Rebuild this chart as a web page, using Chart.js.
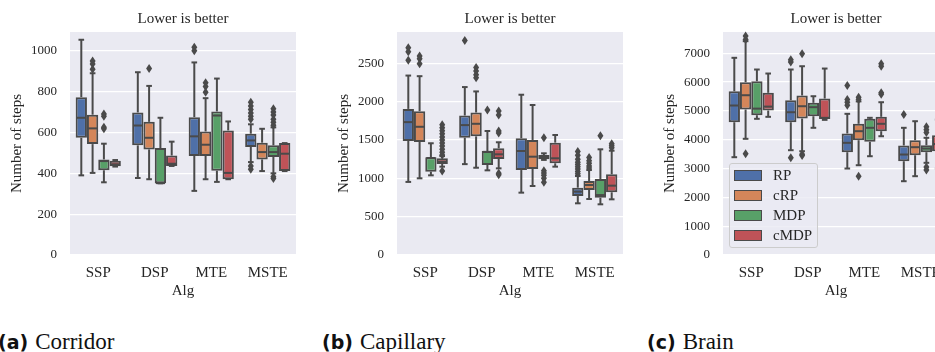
<!DOCTYPE html>
<html>
<head>
<meta charset="utf-8">
<script src="https://cdn.jsdelivr.net/npm/chart.js@4.4.0/dist/chart.umd.min.js"></script>
<style>
  html, body { margin: 0; padding: 0; background: #fff; }
  body { position: relative; width: 935px; height: 352px; overflow: hidden; }
  .panel { position: absolute; top: 0; width: 310px; height: 300px; }
  .caption { position: absolute; top: 327px; height: 30px; display: flex; align-items: center; white-space: nowrap; color: #111; }
  .caption b { font-family: "DejaVu Sans", sans-serif; font-weight: bold; font-size: 19px; margin-right: 7px; }
  .caption span { font-family: "Liberation Serif", "Times New Roman", serif; font-size: 23px; }
  #legend { position: absolute; left: 729px; top: 163px; width: 87px; height: 83px;
    background: rgba(234, 234, 242, 0.8); border: 1px solid #cccccc; border-radius: 3px; }
  #legend .row { position: absolute; left: 4px; height: 20px; display: flex; align-items: center; }
  #legend .patch { width: 28px; height: 11px; box-sizing: border-box; border: 1.5px solid #4a4a4a; }
  #legend .lab { margin-left: 11px; font-family: "Liberation Serif", "Times New Roman", serif; font-size: 15px; color: #262626; }
</style>
</head>
<body>
<div class="panel" style="left:0px"><canvas id="corridor" width="310" height="300"></canvas></div>
<div class="panel" style="left:327px"><canvas id="capillary" width="310" height="300"></canvas></div>
<div class="panel" style="left:653px"><canvas id="brain" width="310" height="300"></canvas></div>
<div id="legend"></div>
<div class="caption" style="left:-2px"><b>(a)</b><span>Corridor</span></div>
<div class="caption" style="left:322px"><b>(b)</b><span>Capillary</span></div>
<div class="caption" style="left:647px"><b>(c)</b><span>Brain</span></div>

<script>
// Box plots. Each box: [whisker low, Q1, median, Q3, whisker high]
// per category; outliers are listed separately per category.

const categories = ["SSP", "DSP", "MTE", "MSTE"];
const seriesNames = ["RP", "cRP", "MDP", "cMDP"];
const seriesColors = ["#4f70a8", "#d4865a", "#58a068", "#bf5358"];
const LINE = "#4a4a4a";
const TEXT = "#262626";
const SERIF = "'Liberation Serif', 'Times New Roman', serif";

// (a) Corridor
const corridorTicks = [0, 200, 400, 600, 800, 1000];
const corridorRP = [[390, 574, 672, 773, 1054], [377, 537, 634, 698, 895], [314, 485, 581, 675, 943], [455, 529, 561, 594, 640]];
const corridorCRP = [[402, 543, 620, 687, 890], [371, 517, 574, 652, 828], [371, 485, 540, 605, 768], [411, 468, 504, 550, 618]];
const corridorMDP = [[356, 415, 460, 468, 545], [351, 351, 352, 524, 672], [358, 413, 683, 703, 864], [400, 480, 504, 537, 625]];
const corridorCMDP = [[433, 435, 444, 462, 465], [436, 436, 447, 487, 555], [371, 371, 402, 610, 654], [411, 411, 496, 548, 548]];
const corridorRPOut = [[], [], [1017, 1000], [748, 730, 712, 695, 680, 665, 436, 420]];
const corridorCRPOut = [[950, 935, 910], [913], [843, 825, 797], []];
const corridorMDPOut = [[690, 680, 625, 618], [], [], [716, 700, 685, 665, 650, 635, 383, 374]];
const corridorCMDPOut = [[], [], [], []];

// (b) Capillary
const capillaryTicks = [0, 500, 1000, 1500, 2000, 2500];
const capillaryRP = [[953, 1487, 1733, 1905, 2340], [1185, 1530, 1694, 1819, 2190], [813, 1108, 1356, 1522, 2090], [674, 769, 826, 878, 1030]];
const capillaryCRP = [[1000, 1474, 1672, 1875, 2332], [1138, 1547, 1711, 1858, 2133], [900, 1122, 1282, 1500, 1956], [730, 848, 913, 965, 1108]];
const capillaryMDP = [[1039, 1087, 1265, 1274, 1457], [1104, 1174, 1345, 1356, 1617], [1240, 1248, 1274, 1304, 1326], [661, 747, 782, 991, 1378]];
const capillaryCMDP = [[1152, 1187, 1217, 1261, 1290], [1130, 1252, 1313, 1391, 1470], [1152, 1196, 1261, 1465, 1565], [726, 818, 904, 1052, 1360]];
const capillaryRPOut = [[2702, 2650, 2539], [2797], [], [1350, 1300, 1250, 1210, 1180, 1150, 1120, 1090, 1060]];
const capillaryCRPOut = [[2595, 2560, 2495], [2444, 2400, 2350, 2310], [], [1270, 1230, 1195, 1160, 1135]];
const capillaryMDPOut = [[], [1891], [1530, 1100, 1070, 1040, 1000, 950], [1556]];
const capillaryCMDPOut = [[1700, 1660, 1620, 1580, 1540, 1500, 1460, 1420, 1380, 1340, 1305, 1095], [1878, 1826, 1617, 1590, 1065, 1045], [], [1450, 1425, 1400]];

// (c) Brain
const brainTicks = [0, 1000, 2000, 3000, 4000, 5000, 6000, 7000];
const brainRP = [[3394, 4608, 5188, 5684, 6843], [3637, 4608, 4955, 5372, 6437], [3001, 3568, 3893, 4216, 4899], [2561, 3255, 3487, 3800, 4414]];
const brainCRP = [[4032, 5049, 5545, 5997, 7420], [3602, 4737, 5163, 5535, 6551], [3116, 3984, 4297, 4553, 5330], [2735, 3463, 3741, 3984, 4643]];
const brainMDP = [[4726, 4851, 5080, 6031, 6437], [4414, 4816, 5130, 5281, 5510], [3428, 3928, 4414, 4726, 4761], [3199, 3568, 3696, 3810, 4067]];
const brainCMDP = [[4795, 5014, 5150, 5628, 6298], [4690, 4720, 4760, 5430, 6471], [4122, 4297, 4553, 4795, 5302], [3000, 3602, 3850, 4157, 4700]];
const brainRPOut = [[], [6780, 6700, 3373], [5882, 5400, 5300, 5200], [4875]];
const brainCRPOut = [[7600, 7480, 3512], [6982, 3500, 3450], [5476, 5400, 2735], []];
const brainMDPOut = [[], [], [], [4450, 4350, 4250, 3050, 2950]];
const brainCMDPOut = [[], [], [6635, 6550, 5628, 5580], []];

const panels = [
  { id: "corridor", max: 1092, ticks: corridorTicks,
    boxes: [corridorRP, corridorCRP, corridorMDP, corridorCMDP],
    outliers: [corridorRPOut, corridorCRPOut, corridorMDPOut, corridorCMDPOut] },
  { id: "capillary", max: 2908, ticks: capillaryTicks,
    boxes: [capillaryRP, capillaryCRP, capillaryMDP, capillaryCMDP],
    outliers: [capillaryRPOut, capillaryCRPOut, capillaryMDPOut, capillaryCMDPOut] },
  { id: "brain", max: 7739, ticks: brainTicks,
    boxes: [brainRP, brainCRP, brainMDP, brainCMDP],
    outliers: [brainRPOut, brainCRPOut, brainMDPOut, brainCMDPOut] },
];

const serif = (size) => ({ family: SERIF, size, weight: "normal", lineHeight: 1.2 });

const plotBackground = {
  id: "plotBackground",
  beforeDraw(chart) {
    const { ctx, chartArea: a } = chart;
    ctx.save();
    ctx.fillStyle = "#eaeaf2";
    ctx.fillRect(a.left, a.top, a.right - a.left, a.bottom - a.top);
    ctx.restore();
  },
};

// whiskers, caps, medians and outlier diamonds, placed from each box bar
const boxWhiskers = {
  id: "boxWhiskers",
  afterDatasetsDraw(chart) {
    const { ctx } = chart;
    const y = chart.scales.y;
    const seg = (x1, y1, x2, y2) => {
      ctx.beginPath();
      ctx.moveTo(x1, y1);
      ctx.lineTo(x2, y2);
      ctx.stroke();
    };
    ctx.save();
    ctx.strokeStyle = LINE;
    ctx.fillStyle = LINE;
    ctx.lineWidth = 2;
    chart.data.datasets.forEach((ds, di) => {
      chart.getDatasetMeta(di).data.forEach((bar, i) => {
        const [lo, q1, med, q3, hi] = ds.stats[i].map((v) => y.getPixelForValue(v));
        const x = bar.x;
        const half = bar.width / 2;
        const cap = bar.width / 4;
        if (hi < q3) seg(x, q3, x, hi);
        if (lo > q1) seg(x, q1, x, lo);
        seg(x - cap, hi, x + cap, hi);
        seg(x - cap, lo, x + cap, lo);
        seg(x - half + 1, med, x + half - 1, med);
        ds.outliers[i].forEach((v) => {
          const py = y.getPixelForValue(v);
          ctx.beginPath();
          ctx.moveTo(x, py - 4.5);
          ctx.lineTo(x + 3, py);
          ctx.lineTo(x, py + 4.5);
          ctx.lineTo(x - 3, py);
          ctx.closePath();
          ctx.fill();
        });
      });
    });
    ctx.restore();
  },
};

function buildChart(p) {
  const datasets = p.boxes.map((stats, si) => ({
    label: seriesNames[si],
    data: stats.map((s) => [s[1], s[3]]),
    stats,
    outliers: p.outliers[si],
    backgroundColor: seriesColors[si],
    borderColor: LINE,
    borderWidth: 2,
    borderSkipped: false,
    categoryPercentage: 0.8,
    barPercentage: 1,
  }));

  new Chart(document.getElementById(p.id), {
    type: "bar",
    data: { labels: categories, datasets },
    options: {
      responsive: false,
      devicePixelRatio: 1,
      animation: false,
      layout: { padding: { left: 0, right: 14, top: 0, bottom: 0 } },
      scales: {
        x: {
          type: "category",
          offset: true,
          grid: { display: false, drawTicks: false },
          border: { display: false },
          ticks: { font: serif(15), color: TEXT, padding: 9 },
          title: { display: true, text: "Alg", font: serif(15), color: TEXT, padding: { top: 0, bottom: 0 } },
          afterFit: (s) => { s.height = 45; },
        },
        y: {
          min: 0,
          max: p.max,
          afterBuildTicks: (s) => { s.ticks = p.ticks.map((v) => ({ value: v })); },
          afterFit: (s) => { s.width = 70; },
          grid: { color: "#ffffff", lineWidth: 1.3, drawTicks: false },
          border: { display: false },
          ticks: { font: serif(13), color: TEXT, padding: 13, callback: (v) => String(v) },
          title: { display: true, text: "Number of steps", font: serif(15), color: TEXT, padding: { top: 8, bottom: 0 } },
        },
      },
      plugins: {
        legend: { display: false },
        tooltip: { enabled: false },
        title: {
          display: true,
          text: "Lower is better",
          fullSize: false,
          font: serif(15),
          color: TEXT,
          padding: { top: 10, bottom: 4 },
        },
      },
    },
    plugins: [plotBackground, boxWhiskers],
  });
}

function buildLegend() {
  const box = document.getElementById("legend");
  seriesNames.forEach((name, i) => {
    const row = document.createElement("div");
    row.className = "row";
    row.style.top = `${1 + i * 20}px`;
    const patch = document.createElement("span");
    patch.className = "patch";
    patch.style.background = seriesColors[i];
    const lab = document.createElement("span");
    lab.className = "lab";
    lab.textContent = name;
    row.append(patch, lab);
    box.append(row);
  });
}

buildLegend();
const fontsReady = document.fonts && document.fonts.load
  ? Promise.all([document.fonts.load("15px 'Liberation Serif'"), document.fonts.load("13px 'Liberation Serif'")]).catch(() => null)
  : Promise.resolve();
fontsReady.then(() => panels.forEach(buildChart));
</script>
</body>
</html>
